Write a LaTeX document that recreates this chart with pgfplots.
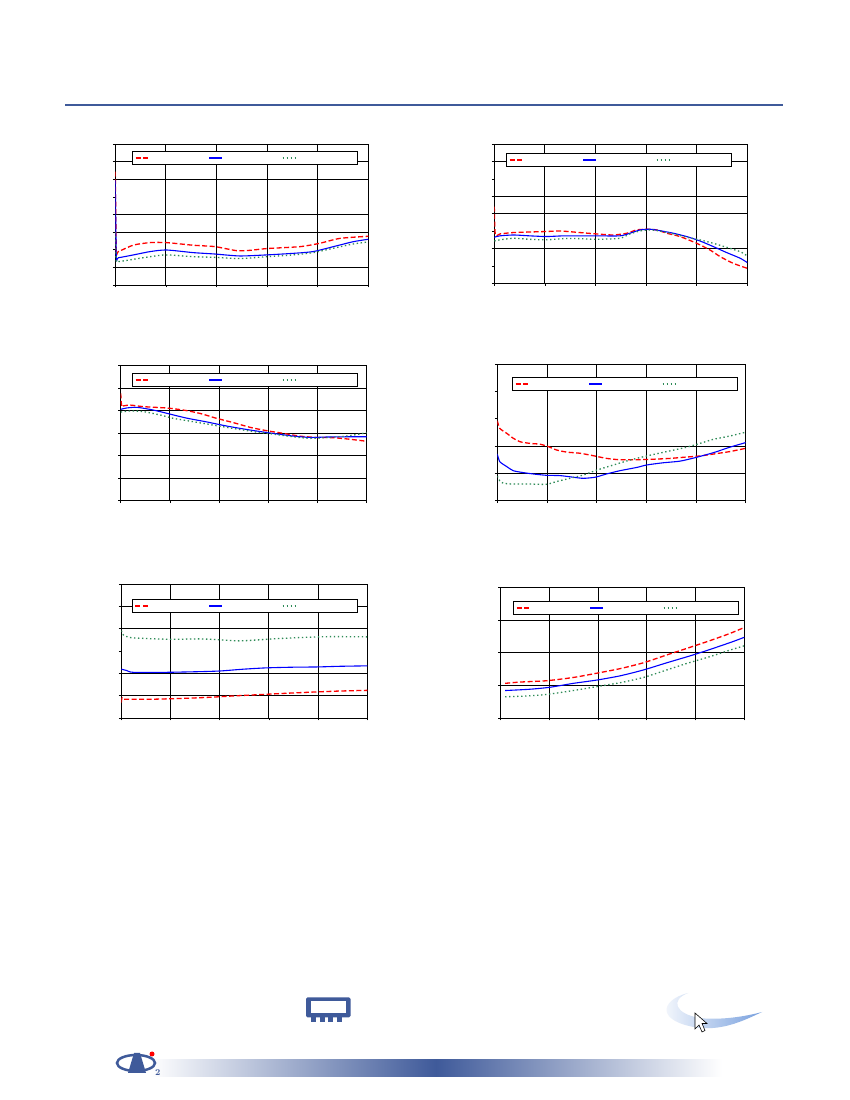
\documentclass[border=0pt]{standalone}
\usepackage{pgfplots}
\pgfplotsset{compat=1.18}
\definecolor{cred}{RGB}{255,0,0}
\definecolor{cblue}{RGB}{0,0,255}
\definecolor{cgreen}{RGB}{46,139,87}
\definecolor{navy}{RGB}{63,90,154}
\definecolor{swoosh}{RGB}{120,160,222}
\pgfplotsset{
  ds/.style={
    scale only axis, xmin=0, xmax=5, xtick={0,...,5}, xticklabels={}, yticklabels={},
    tick pos=left, tick align=outside, major tick length=2.5bp,
    tick style={black, line width=0.8bp},
    axis line style={black, line width=0.9bp},
    xmajorgrids, major grid style={black, line width=0.9bp},
    extra y tick style={grid=major}, extra y tick labels={},
    legend columns=3,
    legend image code/.code={\draw[##1, line width=1.6bp] (0bp,0bp) -- (13bp,0bp);},
    legend style={anchor=north west, draw=black, line width=0.8bp, fill=white,
      inner xsep=2bp, inner ysep=0pt, column sep=0pt,
      nodes={inner sep=0pt, text height=6bp, text depth=6.6bp}, font=\tiny},
  },
  rl/.style={color=cred, line width=1.3bp, dash pattern=on 5bp off 2.5bp, smooth, tension=0.4},
  bl/.style={color=cblue, line width=1.1bp, smooth, tension=0.4},
  gl/.style={color=cgreen, line width=1.3bp, dash pattern=on 1.4bp off 2.6bp, smooth, tension=0.4},
}
\newcommand{\lgsp}{\makebox[59bp]{}}
\begin{document}
\begin{tikzpicture}[x=1bp,y=1bp]
\fill[white] (0,0) rectangle (850,1100);
\path[use as bounding box] (0,0) rectangle (850,1100);
% header rule
\draw[navy, line width=1.2bp] (65,995) -- (783,995);

% ---------- Plot 1
\begin{axis}[ds, at={(115.3bp,815bp)}, anchor=south west, width=253bp, height=140.7bp,
  ymin=0, ymax=8, ytick={0,...,8}, extra y ticks={1,3,4,6,7},
  legend style={at={(0.0672,0.951)}}]
\addplot[rl] coordinates {(0,6.45)(0.02,1.95)(0.06,1.90)(0.36,2.27)(0.69,2.41)(1.01,2.41)(1.54,2.26)(1.97,2.18)(2.40,1.95)(2.66,1.97)(2.99,2.07)(3.65,2.18)(4.04,2.37)(4.44,2.65)(5.0,2.77)};
\addplot[bl] coordinates {(0,5.95)(0.02,1.60)(0.06,1.55)(0.36,1.71)(0.69,1.90)(1.01,1.99)(1.54,1.84)(1.97,1.76)(2.46,1.65)(2.99,1.71)(3.52,1.80)(3.91,1.90)(4.31,2.18)(4.70,2.46)(5.0,2.60)};
\addplot[gl] coordinates {(0,3.0)(0.02,1.40)(0.06,1.33)(0.36,1.46)(0.69,1.61)(1.01,1.71)(1.54,1.61)(1.97,1.57)(2.46,1.50)(2.99,1.61)(3.52,1.71)(3.91,1.84)(4.31,2.09)(4.70,2.33)(5.0,2.45)};
\legend{\lgsp,\lgsp,\lgsp}
\end{axis}

% ---------- Plot 2
\begin{axis}[ds, at={(494.3bp,816.7bp)}, anchor=south west, width=253bp, height=139bp,
  ymin=0, ymax=8, ytick={0,...,8}, extra y ticks={2,4,5,7},
  legend style={at={(0.0474,0.9353)}}]
\addplot[rl] coordinates {(0,4.41)(0.02,2.80)(0.11,2.84)(0.38,2.92)(1.03,2.98)(1.30,3.01)(1.69,2.92)(2.02,2.84)(2.35,2.78)(2.62,2.88)(2.81,3.07)(3.01,3.11)(3.21,3.07)(3.41,2.88)(3.67,2.69)(4.0,2.30)(4.26,1.92)(4.46,1.54)(4.72,1.15)(5.0,0.86)};
\addplot[bl] coordinates {(0,2.65)(0.11,2.73)(0.38,2.78)(0.70,2.73)(1.03,2.69)(1.36,2.73)(1.69,2.73)(2.02,2.73)(2.48,2.73)(2.68,2.88)(2.88,3.07)(3.08,3.11)(3.27,3.03)(3.54,2.88)(3.80,2.69)(4.06,2.44)(4.33,2.11)(4.59,1.77)(4.86,1.44)(5.0,1.19)};
\addplot[gl] coordinates {(0,2.44)(0.18,2.53)(0.38,2.59)(0.70,2.53)(1.03,2.50)(1.36,2.57)(1.69,2.57)(2.02,2.53)(2.48,2.59)(2.68,2.84)(2.88,3.01)(3.08,3.07)(3.27,3.01)(3.54,2.84)(3.80,2.65)(4.06,2.50)(4.33,2.30)(4.59,2.07)(4.86,1.82)(5.0,1.57)};
\legend{\lgsp,\lgsp,\lgsp}
\end{axis}

% ---------- Plot 3
\begin{axis}[ds, at={(120.7bp,599.3bp)}, anchor=south west, width=246bp, height=135bp,
  ymin=0, ymax=6, ytick={0,...,6}, extra y ticks={1,2,3,4,5},
  legend style={at={(0.0472,0.9437)}}]
\addplot[rl] coordinates {(0,4.77)(0.02,4.18)(0.05,4.21)(0.19,4.25)(0.46,4.18)(0.93,4.12)(1.27,4.03)(1.61,3.88)(1.95,3.66)(2.29,3.47)(2.63,3.26)(2.97,3.11)(3.31,2.99)(3.64,2.87)(3.98,2.81)(4.32,2.80)(4.66,2.73)(5.0,2.64)};
\addplot[bl] coordinates {(0,4.06)(0.12,4.12)(0.33,4.15)(0.66,4.03)(1.0,3.85)(1.34,3.67)(1.75,3.50)(2.15,3.32)(2.63,3.14)(3.10,2.99)(3.51,2.87)(3.85,2.81)(4.19,2.83)(4.59,2.84)(5.0,2.84)};
\addplot[gl] coordinates {(0,3.94)(0.19,3.99)(0.46,3.96)(0.80,3.81)(1.07,3.66)(1.48,3.51)(1.88,3.36)(2.29,3.21)(2.70,3.07)(3.10,2.96)(3.51,2.84)(3.85,2.77)(4.19,2.81)(4.59,2.87)(5.0,3.02)};
\legend{\lgsp,\lgsp,\lgsp}
\end{axis}

% ---------- Plot 4
\begin{axis}[ds, at={(497.3bp,599.3bp)}, anchor=south west, width=248.4bp, height=136.4bp,
  ymin=0, ymax=5, ytick={0,...,5}, extra y ticks={1,2},
  legend style={at={(0.0604,0.9047)}}]
\addplot[rl] coordinates {(0,2.93)(0.05,2.65)(0.19,2.47)(0.32,2.29)(0.46,2.16)(0.66,2.10)(0.86,2.07)(1.03,1.98)(1.19,1.86)(1.40,1.78)(1.66,1.74)(1.93,1.65)(2.20,1.55)(2.47,1.50)(2.81,1.50)(3.14,1.52)(3.48,1.55)(3.74,1.59)(4.08,1.64)(4.35,1.71)(4.68,1.80)(5.0,1.92)};
\addplot[bl] coordinates {(0,1.71)(0.05,1.43)(0.19,1.25)(0.32,1.10)(0.52,1.03)(0.72,0.98)(0.99,0.93)(1.26,0.92)(1.53,0.86)(1.73,0.82)(1.97,0.86)(2.20,0.98)(2.47,1.10)(2.81,1.22)(3.01,1.31)(3.34,1.39)(3.68,1.45)(4.01,1.59)(4.35,1.76)(4.68,1.96)(5.0,2.13)};
\addplot[gl] coordinates {(0,0.90)(0.05,0.73)(0.12,0.64)(0.32,0.61)(0.66,0.61)(0.99,0.60)(1.19,0.70)(1.46,0.82)(1.73,0.94)(2.0,1.12)(2.34,1.31)(2.67,1.49)(3.01,1.64)(3.41,1.80)(3.81,1.96)(4.08,2.10)(4.35,2.25)(4.68,2.37)(5.0,2.51)};
\legend{\lgsp,\lgsp,\lgsp}
\end{axis}

% ---------- Plot 5
\begin{axis}[ds, at={(121.3bp,382bp)}, anchor=south west, width=246bp, height=133.7bp,
  ymin=0, ymax=6, ytick={0,...,6}, extra y ticks={1,2,4,5},
  legend style={at={(0.0447,0.8878)}}]
\addplot[rl] coordinates {(0,0.69)(0.01,0.88)(0.04,0.84)(0.58,0.84)(1.26,0.88)(1.80,0.93)(2.28,0.99)(2.82,1.05)(3.36,1.11)(3.97,1.17)(4.44,1.21)(5.0,1.24)};
\addplot[bl] coordinates {(0,2.19)(0.11,2.13)(0.24,2.05)(0.92,2.05)(1.60,2.08)(2.01,2.11)(2.48,2.19)(2.95,2.25)(3.50,2.28)(3.97,2.29)(4.44,2.32)(5.0,2.34)};
\addplot[gl] coordinates {(0,3.92)(0.04,3.73)(0.18,3.61)(0.58,3.56)(1.06,3.53)(1.60,3.55)(2.07,3.50)(2.41,3.46)(2.75,3.50)(3.16,3.56)(3.63,3.61)(4.17,3.65)(4.58,3.65)(5.0,3.64)};
\legend{\lgsp,\lgsp,\lgsp}
\end{axis}

% ---------- Plot 6
\begin{axis}[ds, at={(500.7bp,382bp)}, anchor=south west, width=243.6bp, height=130.7bp,
  ymin=0, ymax=4, ytick={0,...,4}, extra y ticks={1,2,3},
  legend style={at={(0.0517,0.894)}}]
\addplot[rl] coordinates {(0.09,1.06)(0.40,1.10)(0.94,1.14)(1.49,1.24)(1.97,1.37)(2.45,1.51)(2.93,1.69)(3.41,1.93)(3.82,2.13)(4.30,2.37)(4.71,2.59)(5.0,2.77)};
\addplot[bl] coordinates {(0.09,0.84)(0.60,0.88)(1.01,0.94)(1.49,1.06)(1.97,1.16)(2.45,1.29)(2.93,1.47)(3.41,1.69)(3.95,1.93)(4.36,2.13)(4.77,2.34)(5.0,2.47)};
\addplot[gl] coordinates {(0.09,0.65)(0.47,0.67)(0.94,0.72)(1.49,0.84)(1.97,0.96)(2.45,1.08)(2.93,1.24)(3.41,1.47)(3.82,1.67)(4.30,1.88)(4.71,2.08)(5.0,2.21)};
\legend{\lgsp,\lgsp,\lgsp}
\end{axis}

% ---------- footer decorations
% memory icon
\fill[navy, rounded corners=1.5bp] (306,82.7) rectangle (350.5,102.7);
\fill[white] (310.5,87) rectangle (346,98.5);
\fill[navy] (311,77.5) rectangle (316,83);
\fill[navy] (319.5,77.5) rectangle (324.5,83);
\fill[navy] (328,77.5) rectangle (333,83);
\fill[navy] (336.5,77.5) rectangle (341.5,83);
% swoosh and cursor
\shade[left color=white, right color=swoosh]
  (688,107) .. controls (660,100) and (655,78) .. (700,72)
  .. controls (725,70) and (745,80) .. (762,88)
  .. controls (740,82) and (715,80) .. (700,82)
  .. controls (675,86) and (670,100) .. (688,107) -- cycle;
\filldraw[fill=white, draw=black, line width=0.6bp]
  (695,87) -- (695,71) -- (699,75) -- (702,68) -- (705,69.5) -- (702,76.5) -- (707,76.5) -- cycle;
% gradient bar
\shade[left color=white, right color=white, middle color=navy] (150,23) rectangle (722,40);
% logo
\draw[navy, line width=2.5bp] (136,37) ellipse (19bp and 8bp);
\fill[navy] (128,27) -- (134,47) -- (140,47) -- (146,27) -- cycle;
\fill[cred] (152,46) circle (2.5bp);
\node[anchor=south west, inner sep=0pt, text=navy, font=\bfseries\small] at (155,24) {2};
\end{tikzpicture}
\end{document}
